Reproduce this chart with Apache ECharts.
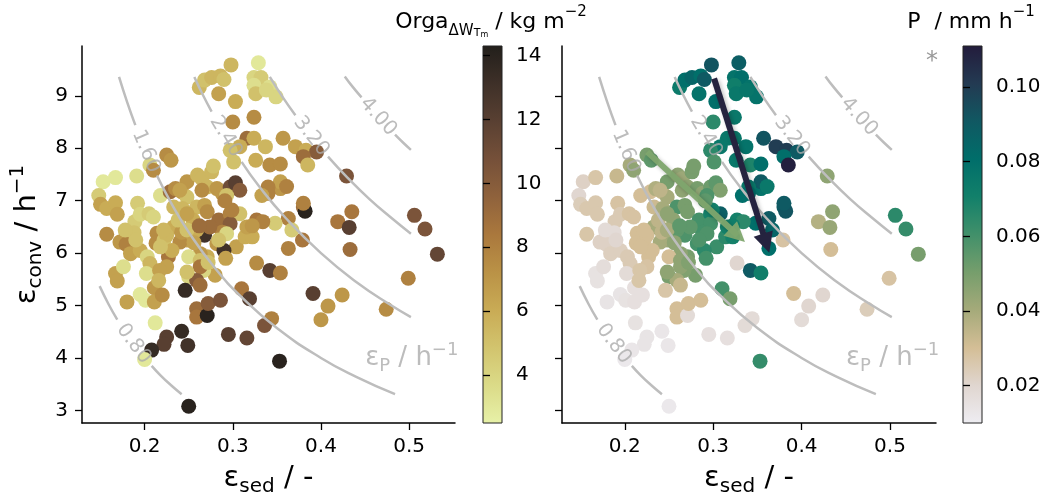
<!DOCTYPE html>
<html><head><meta charset="utf-8">
<script src="https://cdn.jsdelivr.net/npm/echarts@6/dist/echarts.min.js"></script>
<style>html,body{margin:0;padding:0;background:#fff}#c{width:1048px;height:496px}</style>
</head><body><div id="c"></div>
<script>
// ---------- data ----------
const xTicks = [0.2, 0.3, 0.4, 0.5];
const yTicks = [3, 4, 5, 6, 7, 8, 9];
const orgaTicks = [4, 6, 8, 10, 12, 14];
const precipTicks = [0.02, 0.04, 0.06, 0.08, 0.10];

const epsSed = [
0.329,0.298,0.262,0.268,0.276,0.286,0.290,0.284,0.303,0.324,
0.332,0.324,0.326,0.342,0.349,0.338,0.300,0.324,0.316,0.324,
0.337,0.308,0.297,0.301,0.326,0.357,0.371,0.383,0.395,0.380,
0.385,0.342,0.354,0.429,0.153,0.167,0.191,0.225,0.230,0.206,
0.210,0.148,0.150,0.157,0.167,0.169,0.192,0.218,0.157,0.189,
0.195,0.205,0.210,0.179,0.188,0.172,0.179,0.184,0.195,0.203,
0.206,0.202,0.167,0.169,0.176,0.180,0.195,0.201,0.211,0.211,
0.220,0.212,0.214,0.213,0.222,0.227,0.225,0.217,0.216,0.229,
0.235,0.242,0.248,0.260,0.265,0.276,0.278,0.271,0.282,0.288,
0.297,0.303,0.308,0.293,0.248,0.233,0.243,0.259,0.268,0.271,
0.284,0.297,0.308,0.297,0.288,0.282,0.293,0.304,0.290,0.292,
0.280,0.271,0.263,0.268,0.259,0.248,0.240,0.233,0.242,0.225,
0.231,0.250,0.263,0.267,0.263,0.250,0.246,0.259,0.263,0.259,
0.259,0.271,0.272,0.286,0.310,0.319,0.327,0.342,0.354,0.344,
0.336,0.295,0.316,0.353,0.242,0.249,0.225,0.222,0.208,0.200,
0.250,0.435,0.419,0.432,0.433,0.506,0.518,0.532,0.499,0.474,
0.424,0.408,0.400,0.391,0.379,0.363,0.380,0.382,0.363,0.367,
0.348,0.380,0.354,0.354,0.361,0.340,0.340,0.333,0.327,0.334,
0.299,0.314,0.322,0.316,0.322,0.255,0.274,0.238,0.218,0.248,
0.291,0.265,0.190,0.2215,0.248,0.262,0.284,0.256,0.272,0.248,
0.240,0.178];

const epsConv = [
9.63,9.59,9.16,9.30,9.35,9.38,9.31,9.04,8.89,9.35,
9.35,9.20,9.04,9.17,8.98,9.11,8.50,8.59,8.19,8.19,
8.03,8.03,7.96,7.74,7.77,8.19,8.03,7.96,7.93,7.84,
7.68,7.68,7.70,7.47,7.36,7.44,7.47,7.87,7.77,7.68,
7.58,7.10,6.93,6.85,6.96,6.74,6.95,7.10,6.36,6.60,
6.74,6.75,6.69,6.37,6.39,6.21,6.17,5.99,6.05,5.93,
5.80,5.61,5.61,5.47,5.74,5.07,5.21,5.10,5.34,5.07,
5.20,4.67,6.38,6.19,6.25,5.93,5.74,5.67,5.48,7.17,
7.23,7.17,7.36,7.49,7.42,7.55,7.66,7.26,7.23,7.14,
7.26,7.34,7.20,7.10,7.07,6.88,6.85,6.88,6.91,6.79,
6.63,6.75,6.75,6.56,6.40,6.18,6.37,6.12,6.05,5.90,
5.58,5.93,5.99,6.34,6.44,6.25,6.21,6.50,6.40,6.34,
6.05,5.93,5.86,5.67,5.74,5.55,5.29,5.48,5.39,4.94,
4.78,4.81,5.04,5.10,5.32,5.13,5.81,5.67,5.62,4.75,
4.62,4.45,4.38,3.94,4.51,4.24,4.40,4.26,4.15,3.97,
3.08,6.79,6.60,6.49,6.07,6.72,6.46,5.98,5.52,4.93,
5.20,4.99,4.73,5.23,6.25,6.09,6.88,6.80,6.66,6.44,
6.57,6.95,7.23,7.36,7.27,7.26,7.14,7.10,6.63,6.60,
6.82,6.31,6.31,6.50,6.52,6.63,6.50,6.63,6.12,6.75,
7.00,7.20,6.25,6.44,6.44,6.52,6.25,6.20,5.82,5.64,
7.20,6.44];

const orga = [
3.0,5.5,5.5,5.0,5.5,5.5,5.0,6.5,6.0,4.0,
4.5,3.5,5.0,3.5,4.0,4.0,7.5,7.5,9.0,6.0,
5.5,6.0,5.0,5.0,6.0,7.0,6.5,6.0,10.0,9.0,
5.5,7.5,7.5,10.5,3.0,3.0,3.5,7.5,7.0,4.0,
7.5,4.5,6.5,6.0,6.0,6.5,4.5,3.5,7.5,4.5,
4.0,4.5,4.0,6.0,5.0,7.0,8.0,6.5,6.0,4.0,
5.5,3.5,6.5,6.5,3.5,6.5,3.0,3.0,7.0,6.5,
7.5,3.0,7.5,7.5,5.0,8.5,6.5,6.5,5.5,9.0,
7.5,7.0,7.0,5.5,5.5,5.5,5.0,5.5,7.0,7.0,
11.0,12.0,10.0,5.0,5.0,5.5,5.5,5.5,6.5,7.5,
9.0,8.0,5.0,10.0,8.0,7.0,4.0,6.5,13.0,6.5,
6.5,6.0,7.0,13.0,6.0,6.5,7.5,6.0,7.0,5.5,
6.0,3.5,5.0,4.0,8.5,4.0,13.5,10.0,9.0,9.0,
8.5,14.0,10.0,10.5,8.5,12.0,7.5,12.0,8.0,8.0,
10.5,12.0,11.5,14.0,13.5,13.0,12.0,12.0,13.5,3.0,
14.0,8.5,8.5,12.0,9.0,10.5,10.5,11.5,8.0,7.5,
7.0,7.0,7.0,12.0,8.5,8.0,9.0,14.0,8.0,4.5,
4.5,8.0,7.0,6.5,8.0,8.0,8.0,6.5,8.5,8.0,
8.0,6.0,6.0,6.5,7.0,6.0,9.0,5.0,5.0,6.5,
8.0,7.5,5.0,5.5,5.0,9.0,5.0,6.5,5.0,5.0,
6.5,5.0];

const precip = [
0.088,0.092,0.074,0.080,0.085,0.080,0.090,0.078,0.080,0.078,
0.080,0.072,0.075,0.078,0.078,0.076,0.065,0.075,0.075,0.075,
0.078,0.075,0.065,0.058,0.075,0.092,0.100,0.100,0.090,0.080,
0.110,0.068,0.080,0.045,0.022,0.027,0.033,0.050,0.055,0.040,
0.045,0.020,0.024,0.026,0.026,0.026,0.028,0.030,0.027,0.025,
0.025,0.028,0.028,0.018,0.018,0.022,0.022,0.023,0.023,0.025,
0.025,0.018,0.015,0.015,0.017,0.014,0.014,0.015,0.016,0.016,
0.016,0.015,0.030,0.030,0.030,0.030,0.028,0.027,0.027,0.030,
0.038,0.032,0.050,0.045,0.042,0.050,0.050,0.045,0.050,0.045,
0.052,0.055,0.048,0.058,0.040,0.032,0.040,0.058,0.050,0.050,
0.060,0.070,0.088,0.060,0.060,0.060,0.058,0.062,0.065,0.060,
0.050,0.050,0.045,0.058,0.055,0.042,0.040,0.040,0.035,0.030,
0.030,0.030,0.045,0.048,0.045,0.050,0.027,0.040,0.033,0.030,
0.030,0.018,0.030,0.030,0.060,0.050,0.020,0.090,0.072,0.018,
0.018,0.016,0.016,0.063,0.013,0.013,0.014,0.014,0.013,0.012,
0.012,0.045,0.037,0.043,0.030,0.065,0.063,0.050,0.028,0.024,
0.020,0.020,0.018,0.030,0.028,0.080,0.090,0.092,0.090,0.085,
0.080,0.090,0.078,0.090,0.075,0.075,0.080,0.080,0.070,0.065,
0.070,0.065,0.070,0.070,0.072,0.045,0.055,0.035,0.030,0.045,
0.055,0.045,0.020,0.030,0.040,0.055,0.058,0.045,0.048,0.045,
0.035,0.018];

// contour lines of eps_P (two pieces each, broken at the inline label)
const contourLevels = ['0.80', '1.60', '2.40', '3.20', '4.00'];
const contourSegs = [
 [[[0.149,5.37],[0.159,5.03],[0.169,4.73]], [[0.208,3.85],[0.218,3.67],[0.230,3.48],[0.242,3.31]]],
 [[[0.171,9.36],[0.180,8.89],[0.1895,8.44]], [[0.214,7.48],[0.230,6.96],[0.250,6.40],[0.280,5.71],[0.310,5.16],[0.350,4.57],[0.400,4.00],[0.440,3.64],[0.484,3.31]]],
 [[[0.2564,9.36],[0.266,9.02],[0.276,8.70]], [[0.310,7.74],[0.330,7.27],[0.360,6.67],[0.400,6.00],[0.440,5.45],[0.480,5.00],[0.502,4.78]]],
 [[[0.342,9.36],[0.356,8.99],[0.371,8.63]], [[0.408,7.84],[0.430,7.44],[0.455,7.03],[0.480,6.67],[0.502,6.37]]],
 [[[0.427,9.37],[0.436,9.17],[0.446,8.97]], [[0.484,8.26],[0.493,8.11],[0.502,7.97]]]
];
const contourLabelPts = [[0.1875,4.27],[0.2015,7.94],[0.292,8.22],[0.389,8.23],[0.465,8.60]];
const epsPLabelPt = [0.503, 4.0];
const arrowP = [[0.301, 9.33], [0.360, 6.19]];
const arrowGreen = [[0.2253, 7.93], [0.3276, 6.34]];

// ---------- styling ----------
const FONT = 'DejaVu Sans';
const turbid = ['#e7f1a8','#dbdb88','#d2c46e','#c9ab55','#ba9246','#aa783d','#8f623c','#755039','#594032','#3e3028','#221f1b'];
const rain = ['#eeedf2','#e0d6d0','#d4be96','#a5aa7a','#769e6c','#41906a','#12806a','#006e6a','#105862','#233a52','#231c3c'];
const labelAngles = [-53.5, -67, -59, -51.5, -47.7];
const XMIN = 0.129, XMAX = 0.552, YMIN = 2.76, YMAX = 9.95;
const GREY_LINE = '#bdbdbd', GREY_TXT = '#ababab';
const TICK_FS = 20, TICK_LEN = 7, TICK_MARGIN = 14;

function grad(stops) {
  const n = stops.length;
  return new echarts.graphic.LinearGradient(0, 0, 0, 1,
    stops.slice().reverse().map((c, i) => ({offset: i / (n - 1), color: c})));
}
const nameRich = {
  e: {fontFamily: FONT, fontSize: 29, lineHeight: 38, color: '#000'},
  n: {fontFamily: FONT, fontSize: 29, lineHeight: 38, color: '#000'},
  s: {fontFamily: FONT, fontSize: 20, lineHeight: 20, verticalAlign: 'bottom', color: '#000'},
  p: {fontFamily: FONT, fontSize: 20, lineHeight: 20, verticalAlign: 'top', color: '#000'}
};
function mainX(gi) {
  return {type: 'value', gridIndex: gi, min: XMIN, max: XMAX,
    axisLine: {show: true, onZero: false, lineStyle: {color: '#000', width: 1.5}},
    axisTick: {show: true, customValues: xTicks, length: TICK_LEN, lineStyle: {color: '#000', width: 1.3}},
    axisLabel: {show: true, customValues: xTicks, formatter: v => v.toFixed(1), fontFamily: FONT, fontSize: TICK_FS, color: '#000', margin: TICK_MARGIN},
    splitLine: {show: false},
    name: '{e|ε}{s|sed}{n| / -}', nameLocation: 'middle', nameGap: 36,
    nameTextStyle: {rich: nameRich}};
}
function mainY(gi, showLabels) {
  const a = {type: 'value', gridIndex: gi, min: YMIN, max: YMAX,
    axisLine: {show: true, onZero: false, lineStyle: {color: '#000', width: 1.5}},
    axisTick: {show: true, customValues: yTicks, length: TICK_LEN, lineStyle: {color: '#000', width: 1.3}},
    axisLabel: {show: showLabels, customValues: yTicks, fontFamily: FONT, fontSize: TICK_FS, color: '#000', margin: TICK_MARGIN},
    splitLine: {show: false}};
  if (showLabels) {
    a.name = '{e|ε}{s|conv}{n| / h}{p|−1}';
    a.nameLocation = 'middle'; a.nameGap = 36; a.nameRotate = 90;
    a.nameTextStyle = {rich: nameRich};
  }
  return a;
}
function cbarY(gi, min, max, ticks, fmt) {
  return {type: 'value', gridIndex: gi, position: 'right', min: min, max: max,
    axisLine: {show: false},
    axisTick: {show: true, customValues: ticks, length: TICK_LEN, lineStyle: {color: '#000', width: 1.3}},
    axisLabel: {show: true, customValues: ticks, formatter: fmt, fontFamily: FONT, fontSize: TICK_FS, color: '#000', margin: TICK_MARGIN},
    splitLine: {show: false}};
}

const series = [];
series.push({type: 'scatter', xAxisIndex: 0, yAxisIndex: 0, symbolSize: 15, z: 2,
  itemStyle: {opacity: 1}, data: epsSed.map((x, i) => [x, epsConv[i], orga[i]])});
series.push({type: 'scatter', xAxisIndex: 1, yAxisIndex: 1, symbolSize: 15, z: 2,
  itemStyle: {opacity: 1}, data: epsSed.map((x, i) => [x, epsConv[i], precip[i]])});

[0, 1].forEach(p => {
  contourSegs.forEach(segs => segs.forEach(seg => {
    series.push({type: 'line', xAxisIndex: p, yAxisIndex: p, data: seg, smooth: true,
      showSymbol: false, silent: true, z: 3,
      lineStyle: {color: GREY_LINE, width: 2.5}});
  }));
  series.push({type: 'scatter', xAxisIndex: p, yAxisIndex: p, symbolSize: 1, silent: true, z: 4,
    itemStyle: {color: 'rgba(0,0,0,0)'},
    label: {show: true, position: 'inside', color: GREY_TXT, fontFamily: FONT, fontSize: 20},
    data: contourLabelPts.map((pt, i) => ({value: pt, label: {formatter: contourLevels[i], rotate: labelAngles[i]}}))});
  series.push({type: 'scatter', xAxisIndex: p, yAxisIndex: p, symbolSize: 1, silent: true, z: 4,
    itemStyle: {color: 'rgba(0,0,0,0)'},
    label: {show: true, position: 'inside', formatter: '{e|ε}{s|P}{n| / h}{p|−1}',
      rich: {
        e: {fontFamily: FONT, fontSize: 26, lineHeight: 34, color: GREY_TXT},
        n: {fontFamily: FONT, fontSize: 26, lineHeight: 34, color: GREY_TXT},
        s: {fontFamily: FONT, fontSize: 18, lineHeight: 18, verticalAlign: 'bottom', color: GREY_TXT},
        p: {fontFamily: FONT, fontSize: 18, lineHeight: 18, verticalAlign: 'top', color: GREY_TXT}
      }},
    data: [epsPLabelPt]});
});

series.push({type: 'lines', coordinateSystem: 'cartesian2d', xAxisIndex: 1, yAxisIndex: 1, z: 6, silent: true,
  symbol: ['none', 'triangle'], symbolSize: [1, 20],
  lineStyle: {color: 'rgba(128,166,110,0.95)', width: 6, opacity: 1, curveness: 0,
    shadowColor: 'rgba(0,0,0,0.25)', shadowBlur: 4, shadowOffsetX: 2, shadowOffsetY: 2},
  data: [{coords: arrowGreen}]});
series.push({type: 'lines', coordinateSystem: 'cartesian2d', xAxisIndex: 1, yAxisIndex: 1, z: 7, silent: true,
  symbol: ['none', 'triangle'], symbolSize: [1, 20],
  lineStyle: {color: '#25233f', width: 6, opacity: 1, curveness: 0,
    shadowColor: 'rgba(0,0,0,0.25)', shadowBlur: 4, shadowOffsetX: 2, shadowOffsetY: 2},
  data: [{coords: arrowP}]});

const titleRich = {
  m: {fontFamily: FONT, fontSize: 22, lineHeight: 34, fill: '#000'},
  s: {fontFamily: FONT, fontSize: 15, lineHeight: 21, verticalAlign: 'bottom', fill: '#000'},
  ss: {fontFamily: FONT, fontSize: 11, lineHeight: 13, verticalAlign: 'bottom', fill: '#000'},
  sss: {fontFamily: FONT, fontSize: 8, lineHeight: 8, verticalAlign: 'bottom', fill: '#000'},
  p: {fontFamily: FONT, fontSize: 15, lineHeight: 15, verticalAlign: 'top', fill: '#000'}
};

const option = {
  backgroundColor: '#fff',
  animation: false,
  grid: [
    {left: 82, top: 46, width: 373, height: 377, outerBoundsMode: 'none'},
    {left: 562, top: 46, width: 374, height: 377, outerBoundsMode: 'none'},
    {left: 483, top: 46, width: 19, height: 377, show: true, backgroundColor: grad(turbid), borderColor: '#222', borderWidth: 1, outerBoundsMode: 'none'},
    {left: 963, top: 46, width: 19, height: 377, show: true, backgroundColor: grad(rain), borderColor: '#222', borderWidth: 1, outerBoundsMode: 'none'}
  ],
  xAxis: [mainX(0), mainX(1),
    {type: 'value', gridIndex: 2, min: 0, max: 1, show: false},
    {type: 'value', gridIndex: 3, min: 0, max: 1, show: false}],
  yAxis: [mainY(0, true), mainY(1, false),
    cbarY(2, 2.5, 14.3, orgaTicks, v => String(v)),
    cbarY(3, 0.01, 0.111, precipTicks, v => v.toFixed(2))],
  visualMap: [
    {type: 'continuous', show: false, seriesIndex: 0, dimension: 2, min: 2.5, max: 14.3, inRange: {color: turbid}},
    {type: 'continuous', show: false, seriesIndex: 1, dimension: 2, min: 0.01, max: 0.111, inRange: {color: rain}}
  ],
  graphic: [
    {type: 'text', x: 491, y: 5, style: {text: '{m|Orga}{s|ΔW}{ss|T}{sss|m}{m| / kg m}{p|−2}', rich: titleRich, align: 'center', verticalAlign: 'top'}},
    {type: 'text', x: 971, y: 5, style: {text: '{m|P  / mm h}{p|−1}', rich: titleRich, align: 'center', verticalAlign: 'top'}},
    {type: 'text', x: 932, y: 62, style: {text: '*', fontFamily: FONT, fontSize: 24, fill: '#999', align: 'center', verticalAlign: 'middle'}}
  ],
  series: series
};
const chart = echarts.init(document.getElementById('c'), null, {renderer: 'canvas'});
chart.setOption(option);
</script></body></html>
